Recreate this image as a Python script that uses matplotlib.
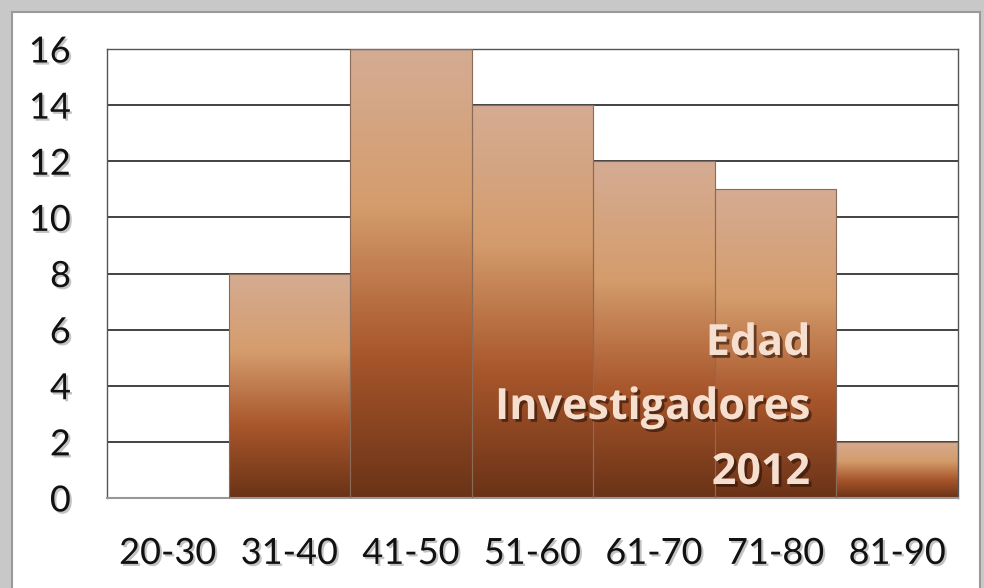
import matplotlib.pyplot as plt
import matplotlib.patheffects as pe
from matplotlib.colors import LinearSegmentedColormap
from matplotlib.patches import Rectangle
import numpy as np

# age ranges and number of researchers in each
age_groups = ['20-30', '31-40', '41-50', '51-60', '61-70', '71-80', '81-90']
counts = [0, 8, 16, 14, 12, 11, 2]
y_ticks = [0, 2, 4, 6, 8, 10, 12, 14, 16]
title_lines = ['Edad', 'Investigadores', '2012']

# brown gradient used inside every bar (top -> bottom)
bar_cmap = LinearSegmentedColormap.from_list('brown', [
    (0.0, '#d5ac93'), (0.35, '#d49c6c'), (0.68, '#a8562b'), (1.0, '#6a3317')])

fig = plt.figure(figsize=(9.84, 5.88), dpi=100)
fig.patch.set_facecolor('#c8c8c8')

# white card with a grey frame
card = Rectangle((12 / 984, -0.01), (980 - 12) / 984, 1.01 - 12 / 588,
                 transform=fig.transFigure, facecolor='white',
                 edgecolor='#9a9a9a', linewidth=1.5, zorder=-10)
fig.patches.append(card)

ax = fig.add_axes([107 / 984, 1 - 498 / 588, (958 - 107) / 984, (498 - 49) / 588],
                  zorder=1)
ax.set_facecolor('white')

x = np.arange(len(age_groups))
bars = ax.bar(x, counts, width=1.0, color='none', edgecolor='#8c6a58',
              linewidth=0.8, zorder=3)

# fill each bar with the vertical gradient
grad = np.linspace(0, 1, 256).reshape(-1, 1)
for b in bars:
    h = b.get_height()
    if h <= 0:
        continue
    x0 = b.get_x()
    im = ax.imshow(grad, cmap=bar_cmap, aspect='auto', origin='upper',
                   extent=(x0, x0 + b.get_width(), 0, h), zorder=2)
    im.set_clip_path(b)

ax.set_xlim(-0.5, len(age_groups) - 0.5)
ax.set_ylim(0, 16)
ax.set_yticks(y_ticks)
ax.set_xticks(x)
ax.set_xticklabels(age_groups)

ax.yaxis.grid(True, color='#222222', linewidth=1.2, zorder=1)
ax.set_axisbelow(True)
for side in ['left', 'right', 'top']:
    ax.spines[side].set_color('#555555')
    ax.spines[side].set_linewidth(1.0)
ax.spines['bottom'].set_color('#999999')
ax.spines['bottom'].set_linewidth(1.5)

shadow = [pe.withSimplePatchShadow(offset=(1.5, -1.5), shadow_rgbFace='#888888', alpha=0.5)]
ax.tick_params(axis='y', length=0, labelsize=26, colors='#111111', pad=26)
ax.tick_params(axis='x', length=0, labelsize=26, colors='#111111', pad=28)
for lbl in ax.get_xticklabels() + ax.get_yticklabels():
    lbl.set_fontfamily('Lato')
    lbl.set_path_effects(shadow)

# title lines, right aligned inside the plot
title_shadow = [pe.withSimplePatchShadow(offset=(2, -2), shadow_rgbFace='#2a1005', alpha=0.6)]
for line, base_y in zip(title_lines, [355, 419, 484]):
    fig.text(810 / 984, 1 - base_y / 588, line, ha='right', va='baseline',
             fontsize=31, fontweight='bold', family='Open Sans', color='#f6dfcf',
             path_effects=title_shadow, zorder=5)

plt.savefig('out.png', dpi=100, facecolor=fig.get_facecolor())
